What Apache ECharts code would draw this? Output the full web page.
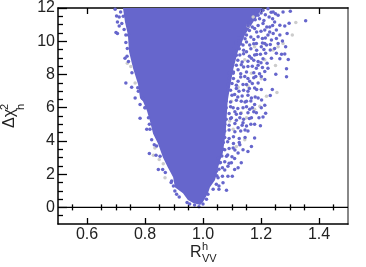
<!DOCTYPE html>
<html><head><meta charset="utf-8">
<style>html,body{margin:0;padding:0;background:#fff}#c{width:366px;height:267px}</style>
<script src="https://cdn.jsdelivr.net/npm/echarts@6/dist/echarts.min.js"></script>
</head><body><div id="c"></div>
<script>
const xMajor = [0.6,0.8,1.0,1.2,1.4];
const xMinor = [0.55,0.65,0.7,0.75,0.85,0.9,0.95,1.05,1.1,1.15,1.25,1.3,1.35,1.45];
const yMajor = [0,2,4,6,8,10,12];
const yMinor = [-0.5,0.5,1,1.5,2.5,3,3.5,4.5,5,5.5,6.5,7,7.5,8.5,9,9.5,10.5,11,11.5];
const zeroLine = [[0.5,0],[1.5,0]];
const solidBoundary = [[.724,12],[.731,11.16],[.741,10.39],[.745,9.37],[.759,8.36],[.776,7.41],[.783,6.57],[.793,6.39],[.807,5.80],[.817,5.20],[.828,4.43],[.845,3.83],[.862,3.0],[.879,2.40],[.897,1.81],[.903,1.21],[.931,.85],[.948,.44],[.966,.26],[.990,.14],[1.0,.32],[1.017,.85],[1.024,1.21],[1.041,1.63],[1.048,2.04],[1.052,2.40],[1.059,2.82],[1.068,3.24],[1.078,4.43],[1.085,6.39],[1.095,7.41],[1.105,8.36],[1.120,9.37],[1.145,10.39],[1.180,11.34],[1.205,12]];
const grayPoints = [[1.308,10.37],[1.320,11.12],[1.242,9.47],[1.213,8.88],[1.167,8.08],[1.155,7.29],[1.201,7.74],[1.121,7.23],[1.098,6.39],[1.132,5.70],[1.150,5.40],[1.178,5.90],[1.092,5.20],[1.104,4.70],[1.144,8.88],[1.178,9.67],[1.155,10.92],[1.173,11.46],[1.259,9.67],[1.250,8.54],[1.276,9.87],[1.255,6.91],[1.219,6.69],[1.196,6.08],[1.115,3.67],[1.144,4.07],[.739,8.68],[.751,8.48],[.766,7.49],[.834,3.57],[.829,3.14],[.863,2.62],[.869,1.78],[.849,2.88]];
const rightPoints = [[1.354,11.24],[1.301,11.80],[1.297,11.08],[1.290,10.47],[1.285,9.67],[1.282,9.23],[1.271,9.21],[1.294,8.90],[1.265,8.94],[1.288,8.34],[1.288,7.86],[1.251,8.02],[1.239,7.09],[1.232,6.73],[1.213,6.15],[1.216,5.66],[1.207,5.44],[1.198,4.92],[1.193,5.40],[1.202,6.47],[1.274,10.01],[1.259,9.87],[1.232,9.81],[1.213,9.87],[1.276,11.76],[1.259,11.56],[1.242,11.76],[1.228,11.46],[1.247,11.16],[1.265,10.96],[1.282,10.92],[1.230,10.86],[1.213,10.67],[1.207,11.06],[1.253,10.67],[1.242,10.47],[1.224,10.37],[1.205,10.17],[1.190,10.27],[1.265,10.37],[1.253,10.17],[1.236,10.07],[1.219,9.77],[1.201,9.67],[1.184,9.87],[1.247,9.57],[1.232,9.47],[1.216,9.27],[1.198,9.21],[1.178,9.17],[1.253,9.27],[1.236,8.98],[1.207,8.94],[1.190,8.78],[1.221,8.68],[1.205,8.42],[1.184,8.38],[1.167,8.98],[1.224,8.38],[1.213,8.18],[1.201,7.88],[1.182,7.88],[1.161,7.59],[1.190,7.49],[1.213,7.69],[1.178,7.19],[1.201,7.09],[1.155,6.99],[1.167,6.59],[1.190,6.59],[1.150,6.39],[1.178,6.19],[1.201,5.99],[1.161,5.90],[1.184,5.70],[1.138,5.99],[1.167,5.40],[1.178,5.00],[1.150,4.90],[1.127,5.40],[1.155,4.60],[1.121,4.80],[1.132,6.39],[1.124,6.99],[1.138,7.39],[1.150,10.37],[1.161,11.16],[1.178,10.76],[1.190,11.56],[1.207,11.86],[1.224,11.96],[1.173,11.76],[1.138,9.77],[1.161,9.77],[1.150,9.37],[1.127,9.17],[1.132,8.58],[1.155,8.48],[1.121,8.28],[1.144,7.88],[1.121,7.59],[1.104,8.08],[1.109,6.79],[1.104,5.99],[1.115,5.60],[1.098,5.40],[1.138,5.10]];
const denseRightPoints = [[1.20,11.7],[1.215,11.6],[1.235,11.75],[1.25,11.65],[1.18,11.3],[1.195,11.35],[1.21,11.25],[1.24,11.35],[1.155,10.95],[1.17,10.85],[1.19,10.95],[1.22,10.85],[1.24,10.95],[1.14,10.6],[1.16,10.65],[1.185,10.55],[1.20,10.6],[1.23,10.55],[1.125,10.2],[1.145,10.15],[1.165,10.25],[1.175,10.1],[1.215,10.2],[1.115,9.9],[1.13,9.85],[1.15,9.95],[1.175,9.85],[1.205,9.9],[1.105,9.5],[1.125,9.55],[1.14,9.45],[1.165,9.55],[1.185,9.45],[1.21,9.5],[1.10,9.2],[1.115,9.15],[1.14,9.25],[1.16,9.1],[1.185,9.2],[1.10,8.8],[1.12,8.85],[1.135,8.75],[1.155,8.8],[1.175,8.85],[1.20,8.7],[1.095,8.5],[1.115,8.55],[1.14,8.45],[1.17,8.5],[1.19,8.55],[1.09,8.1],[1.105,8.15],[1.13,8.05],[1.15,8.15],[1.175,8.1],[1.195,8.05],[1.09,7.8],[1.105,7.75],[1.13,7.85],[1.155,7.75],[1.175,7.8],[1.085,7.4],[1.10,7.45],[1.115,7.35],[1.15,7.4],[1.17,7.45],[1.085,7.1],[1.095,7.05],[1.115,7.15],[1.14,7.05],[1.16,7.15],[1.185,7.1],[1.08,6.7],[1.10,6.75],[1.12,6.65],[1.135,6.7],[1.155,6.75],[1.18,6.65],[1.08,6.4],[1.095,6.35],[1.115,6.45],[1.145,6.35],[1.165,6.4],[1.08,6.0],[1.095,6.05],[1.12,5.95],[1.15,6.05],[1.17,6.0],[1.075,5.7],[1.09,5.65],[1.11,5.75],[1.13,5.65],[1.155,5.7],[1.175,5.75],[1.08,5.3],[1.095,5.35],[1.115,5.25],[1.14,5.3],[1.16,5.35],[1.075,5.0],[1.09,4.95],[1.11,5.05],[1.135,4.95],[1.165,5.0],[1.075,4.6],[1.09,4.65],[1.11,4.55],[1.13,4.6],[1.145,4.65],[1.075,4.2],[1.09,4.15],[1.105,4.25],[1.125,4.15],[1.145,4.2],[1.07,3.9],[1.085,3.95],[1.105,3.85],[1.125,3.9],[1.07,3.5],[1.09,3.55],[1.11,3.45],[1.065,3.1],[1.085,3.15],[1.10,3.05],[1.06,2.7],[1.075,2.75],[1.09,2.65],[1.055,2.3],[1.075,2.25],[1.048,1.9]];
const lowerRightPoints = [[1.178,4.17],[1.167,3.67],[1.155,3.37],[1.138,3.47],[1.121,3.27],[1.109,2.94],[1.132,2.68],[1.121,2.38],[1.109,2.28],[1.101,1.88],[1.086,1.88],[1.081,1.03],[1.067,1.88],[1.052,1.78],[1.069,1.49],[1.055,1.29],[1.046,1.39],[1.035,1.09],[1.055,1.09],[1.098,2.68],[1.081,3.08],[1.104,3.57],[1.127,3.77],[1.086,2.48],[1.067,2.38],[1.046,2.18],[1.058,2.68],[1.075,3.47],[1.052,2.98],[1.000,.20],[.986,.04],[.971,.14],[.954,.20],[.945,.29],[1.012,.49],[1.017,.79]];
const leftPoints = [[.697,11.92],[.702,11.52],[.711,11.46],[.705,11.16],[.711,10.92],[.700,10.53],[.705,10.47],[.734,10.37],[.734,9.93],[.739,9.57],[.731,8.98],[.743,8.78],[.734,7.49],[.754,7.23],[.777,6.99],[.766,6.59],[.792,6.55],[.783,6.19],[.800,5.99],[.783,5.36],[.812,5.40],[.806,4.70],[.817,4.70],[.716,11.76],[.720,11.06],[.743,10.37],[.823,4.07],[.832,3.77],[.815,3.24],[.838,3.14],[.852,3.08],[.846,2.28],[.861,2.28],[.892,1.59],[.898,1.29],[.903,.99],[.909,.79],[.918,.63],[.725,11.5],[.728,10.7],[.738,9.1],[.755,8.1],[.775,7.2],[.80,6.0],[.815,5.0],[.84,3.7],[.87,2.1],[.89,1.5]];

const BLUE='#6666CC', GRAY='#CCCCCC', INK='#222222', FONT='"Liberation Sans",Arial,sans-serif';
const xBase={type:'value',min:0.5,max:1.5,splitLine:{show:false},axisLine:{show:false},axisLabel:{show:false},axisTick:{show:false}};
const yBase={type:'value',min:-1,max:12,splitLine:{show:false},axisLine:{show:false},axisLabel:{show:false},axisTick:{show:false}};
const chart=echarts.init(document.getElementById('c'),null,{renderer:'canvas'});
function tick(values,len){return {show:true,inside:true,length:len,customValues:values,lineStyle:{color:'#000',width:1.3}};}
chart.setOption({
  animation:false,backgroundColor:'#fff',
  grid:{left:58,right:18,top:6,bottom:43,containLabel:false},
  xAxis:[
    {...xBase,position:'bottom',axisLine:{show:true,onZero:false,lineStyle:{color:'#000',width:1.5}},axisTick:tick(xMajor,6),
      axisLabel:{show:true,customValues:xMajor,margin:3,fontSize:16,color:INK,fontFamily:FONT,formatter:v=>v.toFixed(1)}},
    {...xBase,position:'bottom',axisTick:tick(xMinor,3)},
    {...xBase,position:'top',axisLine:{show:true,onZero:false,lineStyle:{color:'#000',width:1.5}},axisTick:tick(xMajor,6)},
    {...xBase,position:'top',axisTick:tick(xMinor,3)}
  ],
  yAxis:[
    {...yBase,position:'left',axisLine:{show:true,onZero:false,lineStyle:{color:'#000',width:1.5}},axisTick:tick(yMajor,9),
      axisLabel:{show:true,customValues:yMajor,margin:3,fontSize:16,color:INK,fontFamily:FONT}},
    {...yBase,position:'left',axisTick:tick(yMinor,5)},
    {...yBase,position:'right',axisLine:{show:true,onZero:false,lineStyle:{color:'#888',width:2}}}
  ],
  series:[
    {type:'custom',data:[0],silent:true,z:3,clip:true,renderItem:(p,api)=>({type:'polygon',shape:{points:solidBoundary.map(q=>api.coord(q))},style:{fill:BLUE}})},
    {type:'scatter',data:grayPoints,symbol:'circle',symbolSize:3.5,itemStyle:{color:GRAY,opacity:1},silent:true,z:4},
    {type:'scatter',data:rightPoints.concat(denseRightPoints,lowerRightPoints,leftPoints),symbol:'circle',symbolSize:3.5,itemStyle:{color:BLUE,opacity:1},silent:true,z:5},
    {type:'line',data:zeroLine,symbol:'none',lineStyle:{color:'#000',width:1.3},silent:true,z:6}
  ],
  graphic:[
    {type:'text',left:190,top:245,z:10,style:{text:'R',font:'16px '+FONT,fill:INK}},
    {type:'text',left:202,top:241,z:10,style:{text:'h',font:'11px '+FONT,fill:INK}},
    {type:'text',left:202,top:253,z:10,style:{text:'VV',font:'11px '+FONT,fill:INK}},
    {type:'text',x:18,y:128,rotation:Math.PI/2,z:10,style:{text:'Δχ',font:'16px '+FONT,fill:INK,align:'left',verticalAlign:'bottom'}},
    {type:'text',x:10,y:110,rotation:Math.PI/2,z:10,style:{text:'2',font:'11px '+FONT,fill:INK,align:'left',verticalAlign:'bottom'}},
    {type:'text',x:26,y:110,rotation:Math.PI/2,z:10,style:{text:'h',font:'11px '+FONT,fill:INK,align:'left',verticalAlign:'bottom'}}
  ]
});
</script></body></html>
